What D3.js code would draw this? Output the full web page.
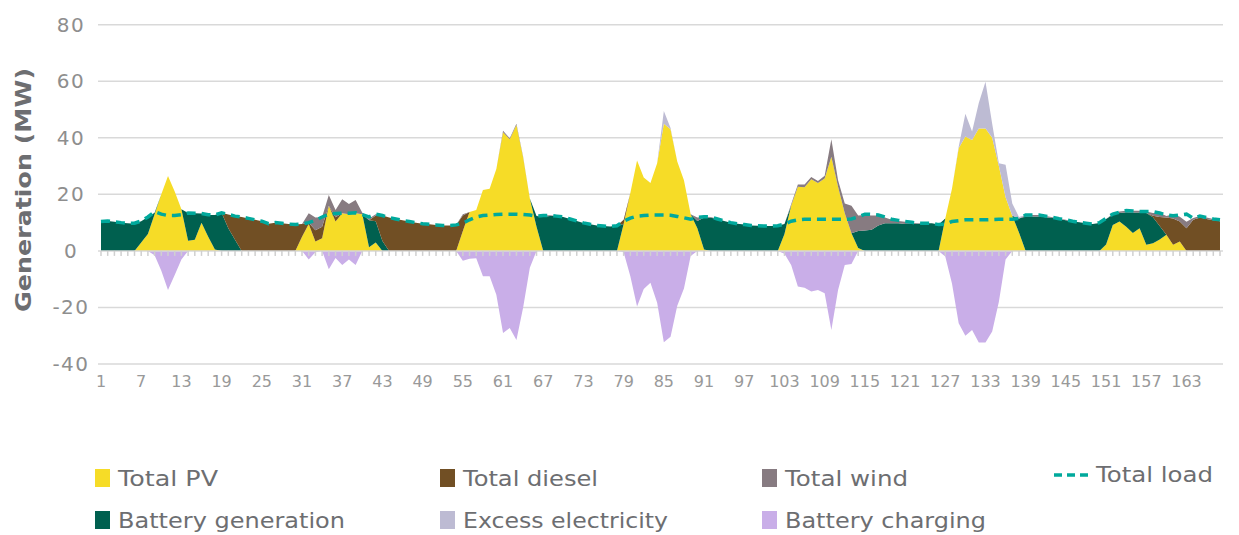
<!DOCTYPE html>
<html>
<head>
<meta charset="utf-8">
<script src="https://cdn.jsdelivr.net/npm/d3@7"></script>
<style>
  body { margin: 0; background: #fff; }
  svg { display: block; font-family: "DejaVu Sans", sans-serif; }
</style>
</head>
<body>
<svg id="chart" width="1239" height="535"></svg>
<script>
// hourly series, hours 1..168 (MW)
const hours = d3.range(1, 169);

const pv = [
  0,0,0,0,0,0,3,6,13,20,26.5,21,
  14.7,3.6,3.9,10,5,0.5,0,0,0,0,0,0,
  0,0,0,0,0,0,5,9.5,3.3,4.5,16,10.4,
  13.3,13,13.3,13,1.3,3,0,0,0,0,0,0,
  0,0,0,0,0,0,7,13.8,14.5,21.5,22,29,
  42,39.5,44.5,33,18.5,8.5,0,0,0,0,0,0,
  0,0,0,0,0,0,9.5,20.5,32,26,24,31,
  45,43,31.6,25,13,8,0.5,0,0,0,0,0,
  0,0,0,0,0,0,6,16,22.7,22.5,25.3,24,
  25.6,33.3,22.7,13.3,6.2,1,0,0,0,0,0,0,
  0,0,0,0,0,0,11.5,22,36.3,40.5,39.2,43.3,
  43.3,40,30,19,12.4,6.5,0,0,0,0,0,0,
  0,0,0,0,0,0,2.3,9.2,10.4,8.5,6.3,8,
  2.2,2.7,4,5.7,2.2,3.3,0,0,0,0,0,0
];

const batteryGen = [
  10.4,10.6,10.3,10,9.8,9.6,7.5,6,0.5,0,0,0,
  0,9.8,9.4,3.2,7.7,12.2,13.5,8,3.9,0,0,0,
  0,0,0,0,0,0,0,0,0,0,0,0,
  0,0,0,0,9.5,7.5,3.5,0,0,0,0,0,
  0,0,0,0,0,0,0,0,0,0,0,0,
  0,0,0,0,0,3.8,12.1,12.3,12.3,12,11.3,10.6,
  9.9,9.4,9,8.8,8.6,8.9,0,0,0,0,0,0,
  0,0,0,0,0,2.6,11.3,11.7,11.3,10.6,10,9.6,
  9.3,9,8.9,8.8,8.8,8.9,3.5,0,0,0,0,0,
  0,0,0,0,0,6,7.2,7.5,9,9.8,9.8,9.8,
  9.5,9.6,9.6,9.8,9.8,9.3,0,0,0,0,0,0,
  0,0,0,0,0,5,12.2,12.2,12.2,11.9,11.6,11.2,
  10.8,10.4,10.1,9.8,9.5,9.9,9,3.6,3,5.2,7.3,5.6,
  11.2,9.2,4.8,0,0,0,0,0,0,0,0,0
];

const diesel = [
  0,0,0,0,0,0,0,0,0,0,0,0,
  0,0,0,0,0,0,0,4.9,8.4,12,11.5,11,
  10.5,9.6,10,9.8,9.5,9.3,4.5,0.5,4,4,0,1.5,
  0,0,0,0,0,2,9,11.8,11.3,10.8,10.4,10,
  9.6,9.4,9.2,9,9,9.2,5.5,0,0,0,0,0,
  0,0,0,0,0,0,0,0,0,0,0,0,
  0,0,0,0,0,0,1.5,0,0,0,0,0,
  0,0,0,0,0,0,0,0,0,0,0,0,
  0,0,0,0,0,0,0,0,0,0,0,0,
  0,0,0,0,0,0,0,0,0,0,0,0,
  0,0,0,0,0,0,0,0,0,0,0,0,
  0,0,0,0,0,0,0,0,0,0,0,0,
  0,0,0,0,0,0,0,0,0,0,0,0,
  0,0.5,3.2,6.1,9.3,7.1,8,11,11.8,11.3,10.8,10.5
];

const wind = [
  0,0,0,0,0,0,0,0,0,0,0,0,
  0,0,0,0,0,0,0,0,0,0,0,0,
  0,0,0,0,0,0,0,3.3,4.5,3.5,3.8,2.6,
  5,3.6,4.7,0.5,0.7,0.5,0,0,0,0,0,0,
  0,0,0,0,0,0,0.5,0,0,0,0,0,
  0.5,0.3,0.5,0.3,0,0,0.4,0.3,0,0,0,0,
  0,0,0,0,0,0,0,0,0,0,0,0,
  0,0,0,0,0,1.2,0.3,0.3,0,0,0,0,
  0,0,0,0,0,0,0,0.5,0.8,1,0.8,0.7,
  1,6.2,2.3,3.5,9.8,5.5,5.5,5,3.5,2,1.2,0.8,
  0.8,0.4,0.2,0,0,0,0,0,0,0,0,0,
  0,0,0,0,0,0,0.5,0.5,0.5,0.4,0.3,0.2,
  0.2,0,0,0,0,0,0,0.3,0.5,0.5,0.6,0.6,
  0.5,1,1.5,0.5,1.5,1.7,2.3,0.6,0.5,0.5,0.5,0.5
];

const excess = [
  0,0,0,0,0,0,0,0,0,0,0,0,
  0,0,0,0,0,0,0,0,0,0,0,0,
  0,0,0,0,0,0,0,0,0,0,0,0,
  0,0,0,0,0,0,0,0,0,0,0,0,
  0,0,0,0,0,0,0,0,0,0,0,0,
  0,0,0,0,0,0,0,0,0,0,0,0,
  0,0,0,0,0,0,0,0,0,0,0,0,
  4.5,0.5,0,0,0,0,0,0,0,0,0,0,
  0,0,0,0,0,0,0,0,0,0,0,0,
  0,0,0,0,0,0,0,0,0,0,0,0,
  0,0,0,0,0,0,0,0,0.5,8,3,9,
  16.5,5,1,11.5,4.4,0.5,0,0,0,0,0,0,
  0,0,0,0,0,0,0,0,0,0,0,0,
  0,0,0,0,0,0,0,0,0,0,0,0
];

const charging = [
  0,0,0,0,0,0,0,0,-1.5,-7,-13.8,-8.5,
  -3,0,0,0,0,0,0,0,0,0,0,0,
  0,0,0,0,0,0,0,-3,-0.5,0,-6.5,-2.5,
  -5,-3,-5,0,0,0,0,0,0,0,0,0,
  0,0,0,0,0,0,-3.5,-2.8,-2.6,-9,-9,-15.5,
  -29,-27.3,-31.5,-20,-6,0,0,0,0,0,0,0,
  0,0,0,0,0,0,-0.5,-9,-19.7,-13.5,-11.3,-18.3,
  -32.3,-30.4,-19.4,-13.3,-1.8,0,0,0,0,0,0,0,
  0,0,0,0,0,0,-1,-5,-12.6,-13,-14.4,-13.8,
  -15,-28,-13.8,-5,-4.6,0,0,0,0,0,0,0,
  0,0,0,0,0,0,-2,-11.5,-25.6,-30,-28,-32.4,
  -32.4,-28.5,-18,-3,0,0,0,0,0,0,0,0,
  0,0,0,0,0,0,0,0,0,0,0,0,
  0,0,0,0,0,0,0,0,0,0,0,0
];

const load = [
  10.4,10.6,10.3,10,9.8,9.8,10.6,12,13.9,13,12.5,12.5,
  12.8,13.4,13.3,13.2,12.8,12.7,13.5,12.9,12.3,12,11.5,11,
  10.5,9.6,10,9.8,9.5,9.3,9.5,10,10.8,12,13,13.2,
  13.3,13.3,13.5,12.8,12,13,12.5,11.8,11.3,10.8,10.4,10,
  9.6,9.4,9.2,9,9,9.2,9.8,11,12,12.5,12.7,12.9,
  13,13,13,12.9,12.7,12.3,12.5,12.6,12.3,12,11.3,10.6,
  9.9,9.4,9,8.8,8.6,8.9,10.5,11.6,12.3,12.5,12.7,12.7,
  12.7,12.6,12.2,11.7,11.2,11.8,12.1,12,11.3,10.6,10,9.6,
  9.3,9,8.9,8.8,8.8,8.9,9.5,10.5,11,11.2,11.2,11.2,
  11.2,11.2,11.2,11.2,11.3,12,13,12.9,12.7,12,11.2,10.8,
  10.4,10.1,9.8,9.8,9.8,9.3,9.5,10.4,10.7,11,11,11,
  11,11.1,11.2,11.2,11.2,11.5,12.7,12.7,12.7,12.3,11.9,11.4,
  11,10.5,10.1,9.8,9.5,10,11.5,13,13.7,14.3,14.1,13.9,
  13.9,13.9,13.4,12.7,12.4,12.7,13,11.5,12.3,11.8,11.3,11
];

const yTicks = [-40, -20, 0, 20, 40, 60, 80];
const xTickHours = d3.range(1, 168, 6);

const stackKeys = ["pv", "batteryGen", "diesel", "wind", "excess"];
const colors = {
  pv: "#f6dc27",
  batteryGen: "#00604f",
  diesel: "#714f24",
  wind: "#877b81",
  excess: "#bdbbd3",
  charging: "#c9aee8",
  load: "#00a99c"
};

const rows = hours.map((h, i) => ({
  hour: h, pv: pv[i], batteryGen: batteryGen[i], diesel: diesel[i],
  wind: wind[i], excess: excess[i], charging: charging[i], load: load[i]
}));

const svg = d3.select("#chart");

const x = d3.scaleLinear().domain([1, 168]).range([101, 1220]);
const y = d3.scaleLinear().domain([-40, 80]).range([364, 24.7]);

// gridlines
svg.append("g")
  .selectAll("line")
  .data(yTicks.filter(d => d !== 0))
  .enter()
  .append("line")
  .attr("x1", 98)
  .attr("x2", 1223)
  .attr("y1", d => y(d))
  .attr("y2", d => y(d))
  .attr("stroke", "#d9d9d9")
  .attr("stroke-width", 1.5);

// y labels
svg.append("g")
  .selectAll("text")
  .data(yTicks)
  .enter()
  .append("text")
  .attr("x", 71)
  .attr("y", d => y(d) + 7)
  .attr("text-anchor", "middle")
  .attr("font-size", 20)
  .attr("letter-spacing", 1.5)
  .attr("fill", "#8e8e8e")
  .text(d => d);

// y title
svg.append("text")
  .attr("transform", "translate(31,190) rotate(-90)")
  .attr("text-anchor", "middle")
  .attr("font-size", 22)
  .attr("font-weight", "bold")
  .attr("fill", "#6d6e71")
  .attr("textLength", 244)
  .attr("lengthAdjust", "spacingAndGlyphs")
  .text("Generation (MW)");

// stacked positive areas
const series = d3.stack().keys(stackKeys)(rows);
const area = d3.area()
  .x(d => x(d.data.hour))
  .y0(d => y(d[0]))
  .y1(d => y(d[1]));

svg.append("g")
  .selectAll("path")
  .data(series)
  .enter()
  .append("path")
  .attr("d", area)
  .attr("fill", d => colors[d.key]);

// battery charging, below zero
svg.append("path")
  .datum(rows)
  .attr("fill", colors.charging)
  .attr("d", d3.area()
    .x(d => x(d.hour))
    .y0(y(0))
    .y1(d => y(d.charging)));

// zero axis with hourly ticks
svg.append("line")
  .attr("x1", 98).attr("x2", 1223)
  .attr("y1", y(0)).attr("y2", y(0))
  .attr("stroke", "#d9d9d9")
  .attr("stroke-width", 1.5);

svg.append("g")
  .selectAll("line")
  .data(hours)
  .enter()
  .append("line")
  .attr("x1", d => x(d))
  .attr("x2", d => x(d))
  .attr("y1", y(0))
  .attr("y2", y(0) + 5)
  .attr("stroke", "#d0d0d0")
  .attr("stroke-width", 1.5);

// x labels
svg.append("g")
  .selectAll("text")
  .data(xTickHours)
  .enter()
  .append("text")
  .attr("x", d => x(d))
  .attr("y", 387)
  .attr("text-anchor", "middle")
  .attr("font-size", 16)
  .attr("fill", "#999999")
  .text(d => d);

// total load
svg.append("path")
  .datum(rows)
  .attr("fill", "none")
  .attr("stroke", colors.load)
  .attr("stroke-width", 3.5)
  .attr("stroke-dasharray", "9,6")
  .attr("d", d3.line().x(d => x(d.hour)).y(d => y(d.load)));

// legend
const legendItems = [
  { key: "pv", label: "Total PV", x: 95, y: 478, w: 100 },
  { key: "diesel", label: "Total diesel", x: 440, y: 478, w: 135 },
  { key: "wind", label: "Total wind", x: 762, y: 478, w: 123 },
  { key: "batteryGen", label: "Battery generation", x: 95, y: 520, w: 227 },
  { key: "excess", label: "Excess electricity", x: 440, y: 520, w: 205 },
  { key: "charging", label: "Battery charging", x: 762, y: 520, w: 201 }
];

const legend = svg.append("g");
legendItems.forEach(it => {
  legend.append("rect")
    .attr("x", it.x).attr("y", it.y - 9)
    .attr("width", 15).attr("height", 18)
    .attr("fill", colors[it.key]);
  legend.append("text")
    .attr("x", it.x + 23).attr("y", it.y + 8)
    .attr("font-size", 21)
    .attr("fill", "#6d6e71")
    .attr("textLength", it.w)
    .attr("lengthAdjust", "spacingAndGlyphs")
    .text(it.label);
});

legend.append("line")
  .attr("x1", 1054).attr("x2", 1090)
  .attr("y1", 475).attr("y2", 475)
  .attr("stroke", colors.load)
  .attr("stroke-width", 3.5)
  .attr("stroke-dasharray", "8,5");
legend.append("text")
  .attr("x", 1096).attr("y", 482)
  .attr("font-size", 21)
  .attr("fill", "#6d6e71")
  .attr("textLength", 117)
  .attr("lengthAdjust", "spacingAndGlyphs")
  .text("Total load");
</script>
</body>
</html>
